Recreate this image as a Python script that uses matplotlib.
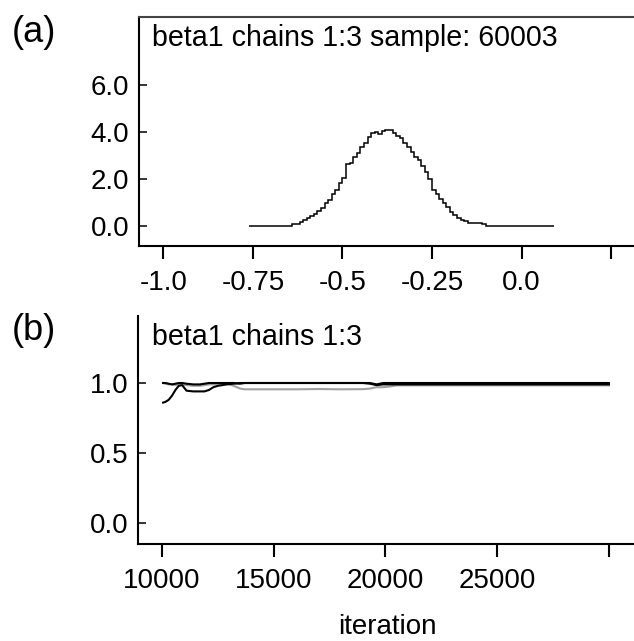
import matplotlib
matplotlib.use("Agg")
import matplotlib.pyplot as plt
import numpy as np

plt.rcParams['font.family'] = ['Liberation Sans', 'DejaVu Sans']

W, H = 634, 641

# panel (a): posterior density of beta1, bins of width 0.01 starting at -0.76
bin_start = -0.76
bin_width = 0.01
density = [0.0, 0.0, 0.0, 0.0, 0.0, 0.0, 0.0, 0.0, 0.0, 0.0,
           0.0, 0.0, 0.09, 0.10, 0.17, 0.25, 0.33, 0.42, 0.52, 0.62,
           0.78, 0.99, 1.12, 1.36, 1.55, 1.82, 2.05, 2.62, 2.70, 2.95,
           3.10, 3.35, 3.52, 3.78, 3.95, 4.00, 3.90, 4.05, 4.10, 4.08,
           3.95, 3.85, 3.75, 3.55, 3.38, 3.15, 2.95, 2.80, 2.55, 2.30,
           2.00, 1.55, 1.35, 1.15, 0.98, 0.80, 0.58, 0.48, 0.36, 0.26,
           0.20, 0.13, 0.12, 0.12, 0.11, 0.10, 0.0, 0.0, 0.0, 0.0,
           0.0, 0.0, 0.0, 0.0, 0.0, 0.0, 0.0, 0.0, 0.0, 0.0,
           0.0, 0.0, 0.0, 0.0, 0.0]
dens_ticks = [-1.0, -0.75, -0.5, -0.25, 0.0, 0.25]
dens_labels = ["-1.0", "-0.75", "-0.5", "-0.25", "0.0", ""]
dens_yticks = [0.0, 2.0, 4.0, 6.0]

# panel (b): Gelman-Rubin diagnostic, three traces
iters = [10050, 10150, 10300, 10450, 10600, 10750, 10900, 11100, 11400, 11700,
         11900, 12100, 12300, 12500, 12700, 12900, 13200, 13500, 13700, 14000,
         15000, 16000, 17000, 18000, 19000, 19300, 19600, 19900, 20200, 20500,
         21000, 22000, 24000, 26000, 28000, 30000]
pooled = [1.0, 1.0, 0.995, 0.99, 0.995, 1.0, 1.0, 0.995, 0.99, 0.99,
          0.995, 1.0, 1.0, 1.0, 1.0, 1.0, 1.0, 0.995, 1.0, 1.0,
          1.0, 1.0, 1.0, 1.0, 1.0, 1.0, 0.99, 1.0, 1.0, 1.0,
          1.0, 1.0, 1.0, 1.0, 1.0, 1.0]
ratio = [0.86, 0.865, 0.88, 0.91, 0.95, 0.98, 0.985, 0.945, 0.94, 0.94,
         0.94, 0.95, 0.97, 0.98, 0.985, 0.99, 0.995, 1.0, 1.0, 1.0,
         1.0, 1.0, 1.0, 1.0, 1.0, 0.995, 0.985, 0.99, 0.99, 0.99,
         0.99, 0.99, 0.99, 0.99, 0.99, 0.99]
within = [1.0, 0.995, 0.99, 0.99, 0.985, 0.99, 0.99, 0.985, 0.98, 0.98,
          0.985, 0.99, 0.99, 0.99, 0.995, 0.995, 0.98, 0.96, 0.955, 0.955,
          0.955, 0.955, 0.957, 0.955, 0.956, 0.96, 0.97, 0.97, 0.975, 0.983,
          0.983, 0.983, 0.983, 0.983, 0.983, 0.983]
bgr_xticks = [10000, 15000, 20000, 25000, 30000]
bgr_xlabels = ["10000", "15000", "20000", "25000", ""]
bgr_yticks = [0.0, 0.5, 1.0]


def box(left, top, right, bottom):
    return [left / W, 1 - bottom / H, (right - left) / W, (bottom - top) / H]


def style(ax):
    for s in ("left", "bottom", "top"):
        ax.spines[s].set_linewidth(1.5)
    ax.spines["right"].set_visible(False)
    ax.tick_params(axis="x", direction="out", length=9.5, width=1.5,
                   pad=7.5, labelsize=20)
    ax.tick_params(axis="y", direction="in", length=5.5, width=1.1,
                   pad=7, labelsize=20)


fig = plt.figure(figsize=(W / 100, H / 100), dpi=100)

ax1 = fig.add_axes(box(139, 17, 634, 246))
edges = bin_start + bin_width * np.arange(len(density) + 1)
ax1.stairs(density, edges, color="black", linewidth=1.1, baseline=None)
ax1.set_xlim(-1.0684, 0.3142)
ax1.set_ylim(-0.851, 8.894)
ax1.set_xticks(dens_ticks)
ax1.set_xticklabels(dens_labels)
ax1.set_yticks(dens_yticks)
ax1.set_yticklabels(["%.1f" % v for v in dens_yticks])
style(ax1)
ax1.spines["top"].set_color("#444444")

ax2 = fig.add_axes(box(138, 316, 634, 544))
ax2.plot(iters, within, color="#a0a0a0", linewidth=1.5)
ax2.plot(iters, pooled, color="black", linewidth=1.5)
ax2.plot(iters, ratio, color="black", linewidth=1.5)
ax2.set_xlim(8926, 31119)
ax2.set_ylim(-0.15, 1.4786)
ax2.set_xticks(bgr_xticks)
ax2.set_xticklabels(bgr_xlabels)
ax2.set_yticks(bgr_yticks)
ax2.set_yticklabels(["%.1f" % v for v in bgr_yticks])
style(ax2)
ax2.spines["top"].set_visible(False)

fig.text(152 / W, 1 - 46 / H, "beta1 chains 1:3 sample: 60003", fontsize=20.6,
         va="baseline", ha="left")
fig.text(152 / W, 1 - 345 / H, "beta1 chains 1:3", fontsize=20.6,
         va="baseline", ha="left")
fig.text(12 / W, 1 - 42 / H, "(a)", fontsize=26, va="baseline", ha="left")
fig.text(12 / W, 1 - 340 / H, "(b)", fontsize=26, va="baseline", ha="left")
fig.text(387 / W, 1 - 634 / H, "iteration", fontsize=20,
         va="baseline", ha="center")

fig.savefig("out.png", dpi=100)
